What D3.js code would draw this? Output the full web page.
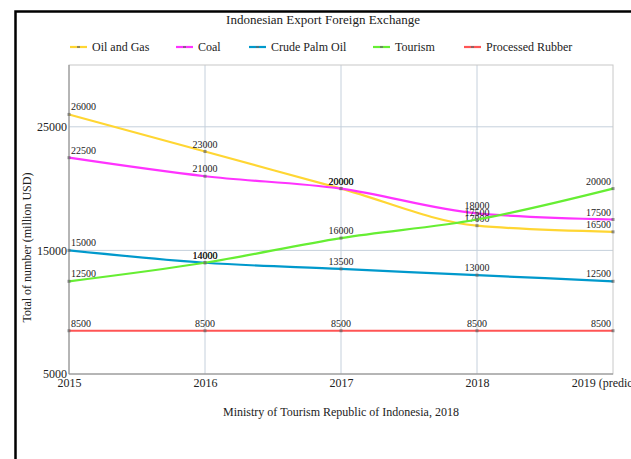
<!DOCTYPE html>
<html><head><meta charset="utf-8">
<script src="https://cdn.jsdelivr.net/npm/d3@7"></script>
<style>body{margin:0;background:#fff}svg{display:block}text{font-family:"Liberation Serif","Times New Roman",serif}</style>
</head><body>
<script>
const years = ["2015","2016","2017","2018","2019 (prediction)"];
const seriesNames = ["Oil and Gas","Coal","Crude Palm Oil","Tourism","Processed Rubber"];
const seriesColors = ["#ffd633","#ff33ff","#0099cc","#66ee33","#ff5555"];
const oilGas = [26000,23000,20000,17000,16500];
const coal = [22500,21000,20000,18000,17500];
const palmOil = [15000,14000,13500,13000,12500];
const tourism = [12500,14000,16000,17500,20000];
const rubber = [8500,8500,8500,8500,8500];
const yTicks = [5000,15000,25000];
const allSeries = [oilGas,coal,palmOil,tourism,rubber];

const W=631,H=459;
const svg=d3.select("body").append("svg").attr("width",W).attr("height",H);
svg.append("rect").attr("x",15.5).attr("y",11.5).attr("width",640).attr("height",500)
  .attr("fill","none").attr("stroke","#000").attr("stroke-width",2.5);

const m={l:69,r:613,t:65,b:374};
const x=d3.scalePoint().domain(years).range([m.l,m.r]);
const y=d3.scaleLinear().domain([5000,30000]).range([m.b,m.t]);

// grid
svg.append("g").selectAll("line").data(years.slice(1,4)).join("line")
  .attr("x1",d=>x(d)).attr("x2",d=>x(d)).attr("y1",m.t).attr("y2",m.b)
  .attr("stroke","#c5d0dc").attr("stroke-width",1);
svg.append("g").selectAll("line").data(yTicks.slice(1)).join("line")
  .attr("x1",m.l).attr("x2",m.r).attr("y1",d=>y(d)).attr("y2",d=>y(d))
  .attr("stroke","#c5d0dc").attr("stroke-width",1);
svg.append("rect").attr("x",m.l).attr("y",m.t).attr("width",m.r-m.l).attr("height",m.b-m.t)
  .attr("fill","none").attr("stroke","#c8c8c8").attr("stroke-width",1);
svg.append("line").attr("x1",m.l).attr("x2",m.l).attr("y1",m.t).attr("y2",m.b).attr("stroke","#888");
svg.append("line").attr("x1",m.l).attr("x2",m.r).attr("y1",m.b).attr("y2",m.b).attr("stroke","#888");

// axes
const ya=d3.axisLeft(y).tickValues(yTicks).tickSize(0).tickPadding(2).tickFormat(d3.format("d"));
const gy=svg.append("g").attr("transform",`translate(${m.l},0)`).call(ya).attr("font-family",null);
gy.select(".domain").remove();
gy.selectAll("text").attr("font-size",12).attr("fill","#222");
const xa=d3.axisBottom(x).tickSize(0).tickPadding(2);
const gx=svg.append("g").attr("transform",`translate(0,${m.b})`).call(xa).attr("font-family",null);
gx.select(".domain").remove();
gx.selectAll("text").attr("font-size",12).attr("fill","#222").attr("dy","0.9em");

// lines
const line=d3.line().x((d,i)=>x(years[i])).y(d=>y(d)).curve(d3.curveMonotoneX);
allSeries.forEach((s,k)=>{
  svg.append("path").datum(s).attr("d",line).attr("fill","none")
    .attr("stroke",seriesColors[k]).attr("stroke-width",2.2);
  svg.append("g").selectAll("rect").data(s).join("rect")
    .attr("x",(d,i)=>x(years[i])-1.5).attr("y",d=>y(d)-1.5).attr("width",3).attr("height",3)
    .attr("fill","#666").attr("opacity",0.7);
  svg.append("g").selectAll("text").data(s).join("text")
    .attr("x",(d,i)=>x(years[i])+(i===0?2:i===years.length-1?-2:0))
    .attr("y",d=>y(d)-4)
    .attr("text-anchor",(d,i)=>i===0?"start":i===years.length-1?"end":"middle")
    .attr("font-size",10).attr("fill","#222").text(d=>d);
});

// title
svg.append("text").attr("x",323).attr("y",24).attr("text-anchor","middle")
  .attr("font-size",13).attr("fill","#222").text("Indonesian Export Foreign Exchange");

// legend
const legX=[70,176,249,373,464];
seriesNames.forEach((n,k)=>{
  const g=svg.append("g").attr("transform",`translate(${legX[k]},47)`);
  g.append("line").attr("x1",0).attr("x2",17).attr("y1",0).attr("y2",0)
    .attr("stroke",seriesColors[k]).attr("stroke-width",2.2);
  g.append("rect").attr("x",7).attr("y",-1).attr("width",3).attr("height",2).attr("fill","#666").attr("opacity",0.7);
  g.append("text").attr("x",22).attr("y",4).attr("font-size",12).attr("fill","#222").text(n);
});

// y label
svg.append("text").attr("transform",`translate(31,${(m.t+m.b)/2+28}) rotate(-90)`)
  .attr("text-anchor","middle").attr("font-size",12).attr("fill","#222")
  .text("Total of number (million USD)");

// source
svg.append("text").attr("x",341).attr("y",416).attr("text-anchor","middle")
  .attr("font-size",12).attr("fill","#222").text("Ministry of Tourism Republic of Indonesia, 2018");
</script>
</body></html>
